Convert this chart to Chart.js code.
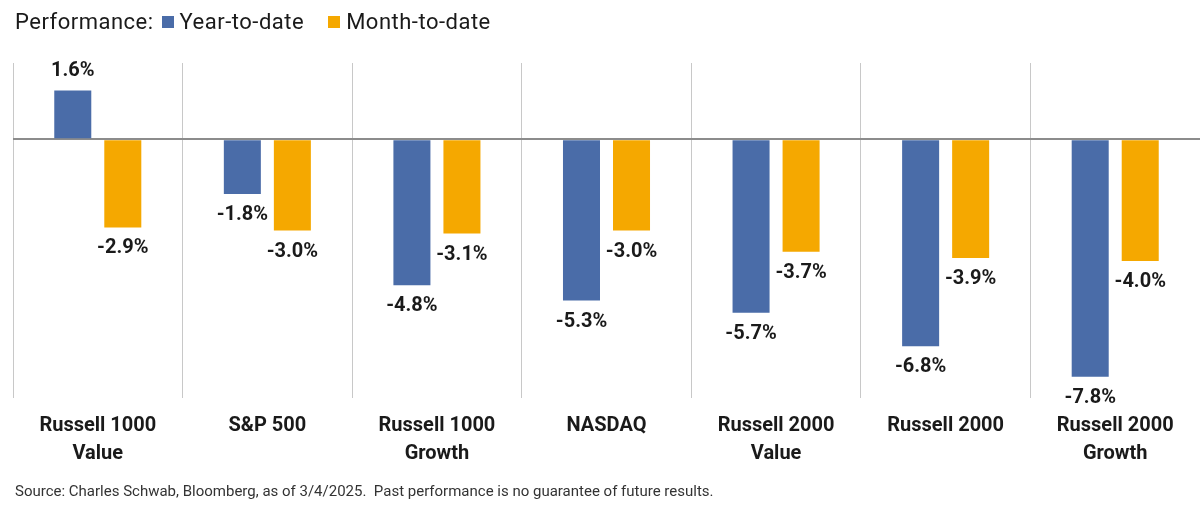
<!DOCTYPE html>
<html>
<head>
<meta charset="utf-8">
<script src="https://cdn.jsdelivr.net/npm/chart.js@4.4.1/dist/chart.umd.min.js"></script>
<style>
  html, body { margin: 0; padding: 0; background: #fff; }
  #wrap { position: relative; width: 1200px; height: 509px; overflow: hidden; font-family: Roboto, "Noto Sans", sans-serif; color: #1a1a1a; }
  #chart { position: absolute; left: 0; top: 0; }
  #legend { position: absolute; left: 15px; top: 9px; font-size: 22px; letter-spacing: 0.5px; white-space: nowrap; }
  #legend .sw { display: inline-block; width: 12px; height: 12px; margin: 0 6px 0 8px; vertical-align: 1px; }
  #legend .gap { display: inline-block; width: 16px; }
  #source { position: absolute; left: 15px; top: 482px; font-size: 15px; color: #333; white-space: nowrap; }
</style>
</head>
<body>
<div id="wrap">
  <canvas id="chart"></canvas>
  <div id="legend"></div>
  <div id="source">Source: Charles Schwab, Bloomberg, as of 3/4/2025.&nbsp; Past performance is no guarantee of future results.</div>
</div>
<script>
const categories = [
  ['Russell 1000', 'Value'],
  ['S&P 500'],
  ['Russell 1000', 'Growth'],
  ['NASDAQ'],
  ['Russell 2000', 'Value'],
  ['Russell 2000'],
  ['Russell 2000', 'Growth']
];
const ytd = [1.6, -1.8, -4.8, -5.3, -5.7, -6.8, -7.8];
const mtd = [-2.9, -3.0, -3.1, -3.0, -3.7, -3.9, -4.0];
const seriesNames = ['Year-to-date', 'Month-to-date'];
const colors = ['#4a6ca8', '#f5a800'];

// legend in html, "Performance:" prefix doesn't fit chart.js legend
const legend = document.getElementById('legend');
legend.innerHTML = 'Performance:' + seriesNames.map((n, i) =>
  (i ? '<span class="gap"></span>' : '') +
  '<span class="sw" style="background:' + colors[i] + '"></span>' + n).join('');

const valueLabels = {
  id: 'valueLabels',
  afterDatasetsDraw(chart) {
    const ctx = chart.ctx;
    ctx.save();
    ctx.font = 'bold 20px Roboto, "Noto Sans", sans-serif';
    ctx.fillStyle = '#1a1a1a';
    ctx.textAlign = 'center';
    ctx.textBaseline = 'middle';
    chart.data.datasets.forEach((ds, di) => {
      chart.getDatasetMeta(di).data.forEach((bar, i) => {
        const v = ds.data[i];
        const y = v >= 0 ? bar.y - 19 : bar.y + 21;
        ctx.fillText(v.toFixed(1) + '%', bar.x, y);
      });
    });
    ctx.restore();
  }
};

const canvas = document.getElementById('chart');
canvas.width = 1200;
canvas.height = 509;

new Chart(canvas, {
  type: 'bar',
  data: {
    labels: categories,
    datasets: [
      { label: seriesNames[0], data: ytd, backgroundColor: colors[0], borderWidth: 0 },
      { label: seriesNames[1], data: mtd, backgroundColor: colors[1], borderWidth: 0 }
    ]
  },
  options: {
    responsive: false,
    animation: false,
    devicePixelRatio: 1,
    categoryPercentage: 0.59,
    barPercentage: 0.74,
    layout: { padding: { left: 13, right: 0, top: 63, bottom: 27 } },
    plugins: {
      legend: { display: false },
      tooltip: { enabled: false }
    },
    scales: {
      x: {
        offset: true,
        border: { display: false },
        grid: {
          offset: true,
          drawTicks: false,
          lineWidth: 1,
          color: c => c.type === 'tick' ? '#c8c8c8' : 'rgba(0,0,0,0)'
        },
        ticks: {
          autoSkip: false,
          maxRotation: 0,
          padding: 14,
          color: '#1a1a1a',
          font: { family: 'Roboto, "Noto Sans", sans-serif', size: 20, weight: 'bold', lineHeight: 1.4 }
        }
      },
      y: {
        min: -8.5,
        max: 2.5,
        border: { display: false },
        ticks: { display: false, stepSize: 0.5 },
        grid: {
          drawTicks: false,
          lineWidth: 2,
          color: c => c.tick && c.tick.value === 0 ? '#8c8c8c' : 'rgba(0,0,0,0)'
        }
      }
    }
  },
  plugins: [valueLabels]
});
</script>
</body>
</html>
